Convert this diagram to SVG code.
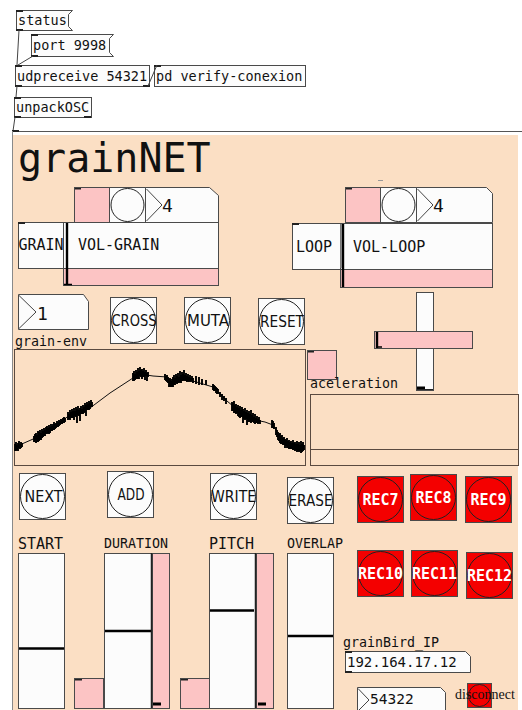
<svg xmlns="http://www.w3.org/2000/svg" width="522" height="710" viewBox="0 0 522 710">
  <style>
    .box { fill: #fcfcfc; stroke: #4a4a4a; stroke-width: 1; }
    .pink { fill: #fcc4c4; stroke: #4a4a4a; stroke-width: 1; }
    .red { fill: #f40000; stroke: #4a4a4a; stroke-width: 1; }
    .ring { fill: none; stroke: #222; stroke-width: 1; }
    .io { fill: #222; }
    .wire { stroke: #444; stroke-width: 1; fill: none; }
    .knob { stroke: #000; stroke-width: 2.4; fill: none; }
    .mono { font-family: "DejaVu Sans Mono", "Liberation Mono", monospace; fill: #111; }
    .obj { font-size: 13.5px; }
    .lbl { font-size: 13.3px; }
    .big { font-size: 15px; }
    .btn { font-family: "DejaVu Sans", "Liberation Sans", sans-serif; font-size: 16px; text-anchor: middle; fill: #111; }
    .wbtn { font-family: "DejaVu Sans Mono", "Liberation Mono", monospace; font-size: 15px; font-weight: bold; text-anchor: middle; fill: #fff; }
    .num { font-size: 18px; }
  </style>

  <!-- page background -->
  <rect x="0" y="0" width="522" height="710" fill="#ffffff"/>

  <!-- message boxes and objects above the canvas -->
  <g id="msg-status">
    <path class="box" d="M16.5,10.5 H72.5 L68.5,14.5 V26.5 L72.5,30.5 H16.5 Z"/>
    <rect class="io" x="16" y="10" width="7" height="2"/>
    <rect class="io" x="16" y="29" width="7" height="2"/>
    <text class="mono obj" x="18" y="25">status</text>
  </g>
  <g id="msg-port">
    <path class="box" d="M31.5,34.5 H113.5 L109.5,38.5 V52.5 L113.5,56.5 H31.5 Z"/>
    <rect class="io" x="31" y="34" width="7" height="2"/>
    <rect class="io" x="31" y="55" width="7" height="2"/>
    <text class="mono obj" x="33" y="50">port 9998</text>
  </g>
  <g id="obj-udpreceive">
    <rect class="box" x="15.5" y="65.5" width="134" height="21"/>
    <rect class="io" x="15" y="65" width="7" height="2"/>
    <rect class="io" x="15" y="85" width="7" height="2"/>
    <rect class="io" x="143" y="85" width="7" height="2"/>
    <text class="mono obj" x="17" y="81">udpreceive 54321</text>
  </g>
  <g id="obj-verify">
    <rect class="box" x="154.5" y="65.5" width="151" height="21"/>
    <rect class="io" x="154" y="65" width="7" height="2"/>
    <text class="mono obj" x="156" y="81">pd verify-conexion</text>
  </g>
  <g id="obj-unpackosc">
    <rect class="box" x="14.5" y="97.5" width="77" height="20"/>
    <rect class="io" x="14" y="97" width="7" height="2"/>
    <rect class="io" x="14" y="116" width="7" height="2"/>
    <rect class="io" x="84" y="116" width="7" height="2"/>
    <text class="mono obj" x="16" y="112">unpackOSC</text>
  </g>

  <!-- patch cords -->
  <g id="connectors">
    <line class="wire" x1="19" y1="30" x2="17" y2="65"/>
    <line class="wire" x1="33" y1="56" x2="18" y2="65"/>
    <line class="wire" x1="148" y1="86" x2="157" y2="65"/>
    <line class="wire" x1="17" y1="86" x2="16" y2="97"/>
    <line class="wire" x1="15" y1="117" x2="13" y2="131"/>
  </g>

  <!-- graph-on-parent canvas -->
  <g id="canvas">
    <line x1="12" y1="131.5" x2="522" y2="131.5" stroke="#555" stroke-width="1"/>
    <rect class="io" x="12" y="130" width="7" height="2"/>
    <rect x="12.5" y="135" width="505.5" height="580" fill="#fbdfc4"/>
    <line x1="12.5" y1="131" x2="12.5" y2="710" stroke="#8a8a8a" stroke-width="1"/>
    <text class="mono" x="18" y="172" font-size="40" fill="#333">grainNET</text>
    <line x1="378" y1="180.5" x2="383" y2="180.5" stroke="#999" stroke-width="1"/>
  </g>

  <!-- grain voice strip -->
  <g id="grain-toggle">
    <rect class="pink" x="74.5" y="187.5" width="35" height="35"/>
    <rect class="io" x="75" y="188" width="6" height="1.5"/>
  </g>
  <g id="grain-bang">
    <rect class="box" x="109.5" y="187.5" width="36" height="35"/>
    <circle class="ring" cx="127.5" cy="205" r="16.5"/>
  </g>
  <g id="grain-number">
    <path class="box" d="M145.5,187.5 H209.5 L218.5,195.5 V222.5 H145.5 Z"/>
    <polyline points="146.5,189 162,205 146.5,221" fill="none" stroke="#444"/>
    <text class="mono num" x="162" y="212">4</text>
  </g>
  <g id="grain-label">
    <rect class="box" x="18.5" y="222.5" width="45" height="46"/>
    <rect class="io" x="18" y="222" width="7" height="2"/>
    <text class="mono big" x="18.5" y="250">GRAIN</text>
  </g>
  <g id="vol-grain">
    <rect class="box" x="63.5" y="222.5" width="155" height="46"/>
    <rect class="pink" x="63.5" y="268.5" width="155" height="17"/>
    <line class="knob" x1="67" y1="223" x2="67" y2="285"/>
    <line x1="64" y1="284.5" x2="72" y2="284.5" stroke="#000" stroke-width="1.5"/>
    <text class="mono big" x="78" y="250">VOL-GRAIN</text>
  </g>

  <!-- loop voice strip -->
  <g id="loop-toggle">
    <rect class="pink" x="345.5" y="187.5" width="35" height="35"/>
    <rect class="io" x="346" y="188" width="6" height="1.5"/>
  </g>
  <g id="loop-bang">
    <rect class="box" x="380.5" y="187.5" width="36" height="35"/>
    <circle class="ring" cx="398.5" cy="205" r="16.5"/>
  </g>
  <g id="loop-number">
    <path class="box" d="M416.5,187.5 H486.5 L492.5,193.5 V222.5 H416.5 Z"/>
    <polyline points="417.5,189 433,205 417.5,221" fill="none" stroke="#444"/>
    <text class="mono num" x="433" y="212">4</text>
  </g>
  <g id="loop-label">
    <rect class="box" x="292.5" y="223.5" width="48" height="46"/>
    <rect class="io" x="292" y="223" width="7" height="2"/>
    <text class="mono big" x="296" y="252">LOOP</text>
  </g>
  <g id="vol-loop">
    <rect class="box" x="340.5" y="223.5" width="152" height="46"/>
    <rect class="pink" x="340.5" y="269.5" width="152" height="18"/>
    <line x1="341" y1="224" x2="341" y2="268" stroke="#888" stroke-width="1.5"/>
    <line class="knob" x1="343" y1="224" x2="343" y2="287"/>
    <text class="mono big" x="353" y="252">VOL-LOOP</text>
  </g>

  <!-- envelope selector and buttons -->
  <g id="grain-env">
    <path class="box" d="M18.5,294.5 H83.5 L88.5,301.5 V329.5 H18.5 Z"/>
    <polyline points="19,295.5 36,312 19,328.5" fill="none" stroke="#444"/>
    <text class="mono num" x="37" y="320">1</text>
    <text class="mono lbl" x="15" y="346">grain-env</text>
  </g>
  <g id="btn-cross">
    <rect class="box" x="110.5" y="297.5" width="46" height="46"/>
    <circle class="ring" cx="133.5" cy="320.5" r="22"/>
    <text class="btn" x="134" y="326" textLength="45" lengthAdjust="spacingAndGlyphs">CROSS</text>
  </g>
  <g id="btn-muta">
    <rect class="box" x="184.5" y="297.5" width="46" height="46"/>
    <circle class="ring" cx="207.5" cy="320.5" r="22"/>
    <text class="btn" x="208" y="326" textLength="42" lengthAdjust="spacingAndGlyphs">MUTA</text>
  </g>
  <g id="btn-reset">
    <rect class="box" x="258.5" y="298.5" width="46" height="46"/>
    <circle class="ring" cx="281.5" cy="321.5" r="22"/>
    <text class="btn" x="282" y="327" textLength="44" lengthAdjust="spacingAndGlyphs">RESET</text>
  </g>

  <!-- grain envelope display -->
  <g id="env-graph">
    <rect x="14.5" y="349.5" width="291" height="116" fill="none" stroke="#5a4a40" stroke-width="1"/>
    <polyline fill="none" stroke="#111" stroke-width="1" points="15,447 40,436 70,415 90,408 110,393 133,378 140,374 153,376 167,377 173,383 183,378 193,381 213,387 227,401 240,412 255,420 265,422 273,425 280,437 290,445 304,448"/>
    <path fill="none" stroke="#000" stroke-width="1.9" d="
      M15 444v7M16 442v9M17 445v5M18 443v8M19 441v7M20 444v5M21 442v6M22 443v4
      M34 436v6M35 434v8M36 433v10M37 435v7M38 431v11M39 432v9M40 430v10M41 433v7M42 429v9M43 431v6M44 428v8M45 430v6M46 427v7
      M47 426v8M48 428v5M49 425v9M50 427v6M51 424v7M52 426v5M53 424v6M54 422v8M55 424v5M56 423v5M57 421v6M58 422v5M59 420v6M60 421v4M61 419v5M62 420v4M63 418v5M64 417v6M65 418v4
      M68 412v8M69 414v5M70 410v10M71 412v6M72 409v9M73 411v7M74 408v12M75 411v5M76 407v10M77 409v14M78 406v9M79 410v6M80 408v13M81 406v8M82 409v5M83 405v9M84 407v6M85 403v9M86 405v11M87 402v8M88 404v6M89 401v9M90 403v6M91 400v7M92 402v5
      M133 373v8M134 371v10M135 374v6M136 370v9M137 372v7M138 368v11M139 371v8M140 367v9M141 370v7M142 369v10M143 371v6M144 368v9M145 372v8M146 370v6M147 373v8M148 372v5
      M165 374v6M166 376v5M167 375v7M168 377v6M169 379v8M170 378v9M171 381v6M172 379v8M173 377v10M174 375v10M175 378v7M176 374v9M177 376v8M178 373v10M179 377v6M180 371v11M181 375v8M182 372v9M183 374v7M184 370v10M185 375v6M186 373v8M187 376v6M188 374v7M189 377v5M190 375v6M191 378v4M192 376v5M193 378v5
      M196 376v8M199 377v8M202 379v6M206 380v5
      M213 384v6M214 385v6M215 386v5M216 387v6M217 388v6M218 389v5M220 392v5M222 394v6M224 396v5M226 398v6
      M232 402v9M233 403v8M234 401v12M235 405v8M236 404v10M237 407v6M238 405v11M239 408v9M240 406v12M241 410v7M242 407v10M243 409v14M244 411v8M245 408v12M246 412v7M247 410v15M248 413v9M249 411v11M250 414v8M251 410v13M252 415v7M253 413v9M254 417v6M255 414v10M256 418v5M257 416v7M258 419v5M259 417v6M260 420v4
      M272 420v8M273 421v7M274 423v6
      M276 427v8M277 430v7M278 432v8M279 434v7M280 433v10M281 436v8M282 435v9M283 438v7M284 437v8M285 439v9M286 440v6M287 438v10M288 441v7M289 440v9M290 442v7M291 441v8M292 443v6M293 440v10M294 443v7M295 442v9M296 444v6M297 441v11M298 444v7M299 442v10M300 445v6M301 441v12M302 444v8M303 442v9M304 445v5"/>
  </g>

  <!-- acceleration controls -->
  <g id="vslider-accel">
    <rect class="box" x="416.5" y="292.5" width="17" height="98"/>
    <rect x="417" y="386.5" width="8" height="3" fill="#000"/>
    <line x1="417" y1="389.5" x2="433" y2="389.5" stroke="#222" stroke-width="1"/>
  </g>
  <g id="hslider-accel">
    <rect class="pink" x="374.5" y="331.5" width="98" height="17"/>
    <line class="knob" x1="377" y1="332" x2="377" y2="348"/>
    <line x1="376" y1="347" x2="382" y2="347" stroke="#000" stroke-width="1.5"/>
  </g>
  <g id="accel-toggle">
    <rect class="pink" x="307.5" y="350.5" width="29" height="29"/>
    <rect class="io" x="308" y="351" width="6" height="1.5"/>
    <text class="mono lbl" x="310" y="388">aceleration</text>
  </g>
  <g id="accel-graph">
    <rect x="310.5" y="394.5" width="208" height="71" fill="none" stroke="#5a4a40" stroke-width="1"/>
    <line x1="310.5" y1="449.5" x2="518.5" y2="449.5" stroke="#5a4a40" stroke-width="1"/>
  </g>

  <!-- transport buttons -->
  <g id="btn-next">
    <rect class="box" x="19.5" y="473.5" width="46" height="46"/>
    <circle class="ring" cx="42.5" cy="496.5" r="22"/>
    <text class="btn" x="43.5" y="502" textLength="38" lengthAdjust="spacingAndGlyphs">NEXT</text>
  </g>
  <g id="btn-add">
    <rect class="box" x="107.5" y="471.5" width="46" height="46"/>
    <circle class="ring" cx="130.5" cy="494.5" r="22"/>
    <text class="btn" x="131" y="500" textLength="27" lengthAdjust="spacingAndGlyphs">ADD</text>
  </g>
  <g id="btn-write">
    <rect class="box" x="210.5" y="473.5" width="46" height="46"/>
    <circle class="ring" cx="233.5" cy="496.5" r="22"/>
    <text class="btn" x="233.5" y="502" textLength="45" lengthAdjust="spacingAndGlyphs">WRITE</text>
  </g>
  <g id="btn-erase">
    <rect class="box" x="287.5" y="477.5" width="46" height="46"/>
    <circle class="ring" cx="310.5" cy="500.5" r="22"/>
    <text class="btn" x="310.5" y="506" textLength="44" lengthAdjust="spacingAndGlyphs">ERASE</text>
  </g>

  <!-- record slots -->
  <g id="rec7">
    <rect class="red" x="357.5" y="476.5" width="46" height="46"/>
    <circle class="ring" cx="380.5" cy="499.5" r="22"/>
    <text class="wbtn" x="380.5" y="505">REC7</text>
  </g>
  <g id="rec8">
    <rect class="red" x="410.5" y="474.5" width="46" height="46"/>
    <circle class="ring" cx="433.5" cy="497.5" r="22"/>
    <text class="wbtn" x="433.5" y="503">REC8</text>
  </g>
  <g id="rec9">
    <rect class="red" x="465.5" y="476.5" width="46" height="46"/>
    <circle class="ring" cx="488.5" cy="499.5" r="22"/>
    <text class="wbtn" x="488.5" y="505">REC9</text>
  </g>
  <g id="rec10">
    <rect class="red" x="357.5" y="550.5" width="46" height="46"/>
    <circle class="ring" cx="380.5" cy="573.5" r="22"/>
    <text class="wbtn" x="380.5" y="579">REC10</text>
  </g>
  <g id="rec11">
    <rect class="red" x="411.5" y="550.5" width="46" height="46"/>
    <circle class="ring" cx="434.5" cy="573.5" r="22"/>
    <text class="wbtn" x="434.5" y="579">REC11</text>
  </g>
  <g id="rec12">
    <rect class="red" x="466.5" y="552.5" width="46" height="46"/>
    <circle class="ring" cx="489.5" cy="575.5" r="22"/>
    <text class="wbtn" x="489.5" y="581">REC12</text>
  </g>

  <!-- parameter sliders -->
  <g id="slider-start">
    <text class="mono big" x="18" y="549">START</text>
    <rect class="box" x="18.5" y="553.5" width="46" height="155"/>
    <line class="knob" x1="19" y1="648.5" x2="64" y2="648.5"/>
  </g>
  <g id="slider-duration">
    <text class="mono lbl" x="104" y="548">DURATION</text>
    <rect class="pink" x="74.5" y="678.5" width="29" height="30"/>
    <rect class="io" x="75" y="679" width="7" height="1.5"/>
    <rect class="box" x="104.5" y="553.5" width="47" height="155"/>
    <line class="knob" x1="105" y1="631" x2="151" y2="631"/>
    <rect class="pink" x="152.5" y="553.5" width="17" height="155"/>
    <line x1="151.5" y1="553" x2="151.5" y2="708" stroke="#222" stroke-width="1.5"/>
    <rect x="153" y="702.5" width="8" height="3" fill="#000"/>
  </g>
  <g id="slider-pitch">
    <text class="mono big" x="209" y="549">PITCH</text>
    <rect class="pink" x="180.5" y="678.5" width="29" height="30"/>
    <rect class="io" x="181" y="679" width="7" height="1.5"/>
    <rect class="box" x="209.5" y="553.5" width="46" height="155"/>
    <line class="knob" x1="210" y1="610.5" x2="254" y2="610.5"/>
    <rect class="pink" x="256.5" y="553.5" width="17" height="155"/>
    <line x1="255.5" y1="553" x2="255.5" y2="708" stroke="#222" stroke-width="1.5"/>
    <rect x="258" y="702.5" width="8" height="3" fill="#000"/>
  </g>
  <g id="slider-overlap">
    <text class="mono lbl" x="287" y="548">OVERLAP</text>
    <rect class="box" x="287.5" y="553.5" width="46" height="155"/>
    <line class="knob" x1="288" y1="636" x2="333" y2="636"/>
  </g>

  <!-- network settings -->
  <g id="grainbird-ip">
    <text class="mono lbl" x="343" y="647">grainBird_IP</text>
    <path class="box" d="M345.5,651.5 H465.5 L470.5,656.5 V672.5 H345.5 Z"/>
    <rect class="io" x="345" y="651" width="7" height="2"/>
    <rect class="io" x="345" y="671" width="7" height="2"/>
    <text class="mono" x="347" y="667" font-size="14">192.164.17.12</text>
  </g>
  <g id="port-number">
    <path class="box" d="M357.5,687.5 H440.5 L445.5,692.5 V712 H357.5 Z"/>
    <polyline points="358,688.5 369,700 358,711" fill="none" stroke="#444"/>
    <text class="mono" x="370" y="704" font-size="14.5">54322</text>
  </g>
  <g id="btn-disconnect">
    <rect class="red" x="467.5" y="683.5" width="24" height="24"/>
    <circle class="ring" cx="479.5" cy="695.5" r="11"/>
    <text x="455" y="699" font-family="'Liberation Serif', 'Times New Roman', serif" font-size="14" fill="#111">disconnect</text>
  </g>
</svg>
